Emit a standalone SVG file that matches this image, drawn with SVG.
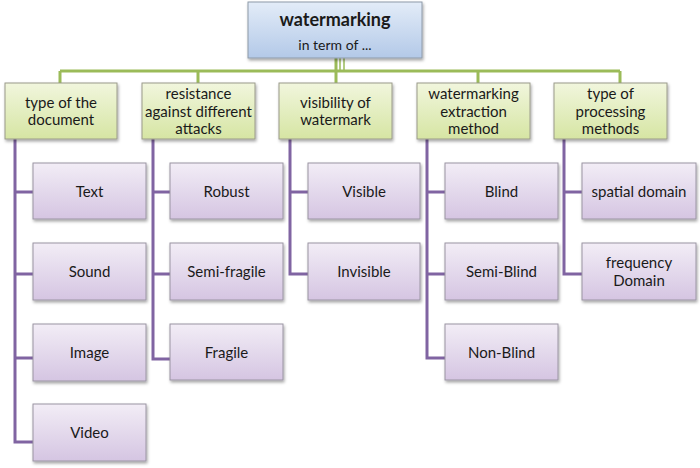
<svg xmlns="http://www.w3.org/2000/svg" width="700" height="468" viewBox="0 0 700 468">
<defs>
<linearGradient id="gBlue" x1="0" y1="0" x2="0" y2="1"><stop offset="0" stop-color="#e3ecf8"/><stop offset="1" stop-color="#b3c9e8"/></linearGradient>
<linearGradient id="gGreen" x1="0" y1="0" x2="0" y2="1"><stop offset="0" stop-color="#f1f6dd"/><stop offset="1" stop-color="#d6e5a3"/></linearGradient>
<linearGradient id="gPurple" x1="0" y1="0" x2="0" y2="1"><stop offset="0" stop-color="#f2edf6"/><stop offset="1" stop-color="#d5c5e2"/></linearGradient>
<filter id="sh" x="-10%" y="-10%" width="125%" height="130%"><feDropShadow dx="1" dy="2" stdDeviation="1.5" flood-color="#000" flood-opacity="0.35"/></filter>
</defs>
<style>
.root{fill:url(#gBlue);stroke:#8e9aa8;stroke-width:1;filter:url(#sh)}
.l1{fill:url(#gGreen);stroke:#9a9a8a;stroke-width:1;filter:url(#sh)}
.l2{fill:url(#gPurple);stroke:#9a94a2;stroke-width:1;filter:url(#sh)}
.gc{stroke:#9bbb59;stroke-width:3;fill:none}
.pc{stroke:#8064a2;stroke-width:3;fill:none}
text{font-family:Lato,"Liberation Sans",sans-serif;fill:#1a1a1a;text-anchor:middle;dominant-baseline:central}
.t{font-size:15px}
.tb{font-size:18px;font-weight:bold}
.ts{font-size:14px}
</style>
<rect width="700" height="468" fill="#fff"/>
<g id="connectors">
<path class="gc" d="M60,71 H620 M60,71 V83 M198,71 V83 M336,58 V83 M478,71 V83 M620,71 V83"/>
<path stroke="#9bbb59" stroke-width="1.5" d="M340,58 V71 M344,58 V71"/>
<path class="pc" d="M15,139 V442 H33 M15,192 H33 M15,274 H33 M15,358 H33"/>
<path class="pc" d="M153,139 V359 H170 M153,192 H170 M153,274 H170"/>
<path class="pc" d="M290,139 V274 H308 M290,192 H308"/>
<path class="pc" d="M427,139 V358 H445 M427,192 H445 M427,274 H445"/>
<path class="pc" d="M564,139 V274 H582 M564,192 H582"/>
</g>
<g id="root"><rect class="root" x="248" y="2" width="174" height="56"/><text class="tb" x="335" y="19">watermarking</text><text class="ts" x="335" y="44">in  term of ...</text></g>
<g id="n-doc"><rect class="l1" x="5" y="83" width="112" height="56"/><text class="t" x="61" y="102">type of the</text><text class="t" x="61" y="119">document</text></g>
<g id="n-res"><rect class="l1" x="142" y="83" width="113" height="56"/><text class="t" x="198.5" y="93">resistance</text><text class="t" x="198.5" y="110.5">against different</text><text class="t" x="198.5" y="128">attacks</text></g>
<g id="n-vis"><rect class="l1" x="279" y="83" width="113" height="56"/><text class="t" x="335.5" y="102">visibility of</text><text class="t" x="335.5" y="119">watermark</text></g>
<g id="n-ext"><rect class="l1" x="417" y="83" width="113" height="56"/><text class="t" x="473.5" y="93">watermarking</text><text class="t" x="473.5" y="110.5">extraction</text><text class="t" x="473.5" y="128">method</text></g>
<g id="n-proc"><rect class="l1" x="554" y="83" width="113" height="56"/><text class="t" x="610.5" y="93">type of</text><text class="t" x="610.5" y="110.5">processing</text><text class="t" x="610.5" y="128">methods</text></g>
<g id="c-text"><rect class="l2" x="33" y="163" width="113" height="56"/><text class="t" x="89.5" y="191">Text</text></g>
<g id="c-sound"><rect class="l2" x="33" y="243" width="113" height="57"/><text class="t" x="89.5" y="271">Sound</text></g>
<g id="c-image"><rect class="l2" x="33" y="324" width="113" height="57"/><text class="t" x="89.5" y="352">Image</text></g>
<g id="c-video"><rect class="l2" x="33" y="404" width="113" height="57"/><text class="t" x="89.5" y="432">Video</text></g>
<g id="c-robust"><rect class="l2" x="170" y="163" width="113" height="56"/><text class="t" x="226.5" y="191">Robust</text></g>
<g id="c-semifragile"><rect class="l2" x="170" y="243" width="113" height="57"/><text class="t" x="226.5" y="271">Semi-fragile</text></g>
<g id="c-fragile"><rect class="l2" x="170" y="324" width="113" height="56"/><text class="t" x="226.5" y="352">Fragile</text></g>
<g id="c-visible"><rect class="l2" x="308" y="163" width="112" height="56"/><text class="t" x="364" y="191">Visible</text></g>
<g id="c-invisible"><rect class="l2" x="308" y="243" width="112" height="57"/><text class="t" x="364" y="271">Invisible</text></g>
<g id="c-blind"><rect class="l2" x="445" y="163" width="113" height="56"/><text class="t" x="501.5" y="191">Blind</text></g>
<g id="c-semiblind"><rect class="l2" x="445" y="243" width="113" height="57"/><text class="t" x="501.5" y="271">Semi-Blind</text></g>
<g id="c-nonblind"><rect class="l2" x="445" y="324" width="113" height="56"/><text class="t" x="501.5" y="352">Non-Blind</text></g>
<g id="c-spatial"><rect class="l2" x="582" y="163" width="114" height="56"/><text class="t" x="639" y="191">spatial domain</text></g>
<g id="c-freq"><rect class="l2" x="582" y="243" width="114" height="57"/><text class="t" x="639" y="262">frequency</text><text class="t" x="639" y="280">Domain</text></g>
</svg>
